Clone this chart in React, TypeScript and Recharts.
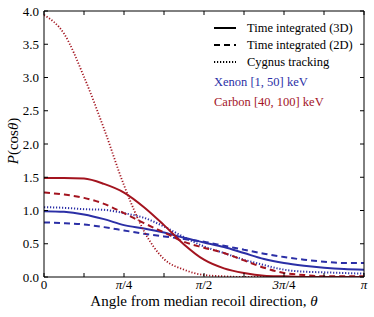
import { LineChart, Line, XAxis, YAxis } from "recharts";

// angle from median recoil direction, in units of pi
const THETA = [0, 0.0625, 0.125, 0.1875, 0.25, 0.3125, 0.375, 0.4375, 0.5, 0.5625, 0.625, 0.6875, 0.75, 0.8125, 0.875, 0.9375, 1];

const CARBON_3D = [1.49, 1.49, 1.48, 1.4, 1.27, 1.05, 0.78, 0.49, 0.26, 0.13, 0.06, 0.02, 0.01, 0, 0, 0, 0];
const CARBON_2D = [1.27, 1.24, 1.19, 1.1, 0.96, 0.81, 0.67, 0.53, 0.44, 0.36, 0.25, 0.14, 0.06, 0.03, 0.01, 0.01, 0.01];
const CARBON_CYG = [3.94, 3.66, 3.01, 2.23, 1.38, 0.69, 0.27, 0.11, 0.03, 0.01, 0, 0, 0, 0, 0, 0, 0];
const XENON_3D = [0.99, 0.98, 0.94, 0.87, 0.78, 0.73, 0.67, 0.59, 0.52, 0.45, 0.36, 0.27, 0.21, 0.17, 0.14, 0.12, 0.11];
const XENON_2D = [0.82, 0.81, 0.79, 0.75, 0.7, 0.65, 0.61, 0.57, 0.53, 0.47, 0.41, 0.35, 0.3, 0.26, 0.23, 0.21, 0.21];
const XENON_CYG = [1.05, 1.04, 1.02, 1.01, 0.96, 0.89, 0.76, 0.6, 0.46, 0.36, 0.26, 0.18, 0.11, 0.08, 0.07, 0.06, 0.05];

const X_TICKS = [0, 0.125, 0.25, 0.375, 0.5, 0.625, 0.75, 0.875, 1];
const X_LABELS: Record<string, [string, string]> = {
  "0": ["", "0"],
  "0.25": ["π", "/4"],
  "0.5": ["π", "/2"],
  "0.75": ["3π", "/4"],
  "1": ["π", ""],
};
const Y_TICKS = [0, 0.5, 1, 1.5, 2, 2.5, 3, 3.5, 4];

const BLUE = "#2b2fa6";
const RED = "#a3141f";
const FONT = "'Liberation Serif', 'Times New Roman', 'DejaVu Serif', serif";

const data = THETA.map((t, i) => ({
  t,
  c3: CARBON_3D[i],
  c2: CARBON_2D[i],
  cc: CARBON_CYG[i],
  x3: XENON_3D[i],
  x2: XENON_2D[i],
  xc: XENON_CYG[i],
}));

function PiTick({ x, y, payload }: any) {
  const lab = X_LABELS[String(payload.value)];
  if (!lab) return <g />;
  const [a, b] = lab;
  return (
    <text x={x} y={y} dy="0.75em" textAnchor="middle" fontFamily={FONT} fontSize={13} fill="#000">
      {a && <tspan fontStyle="italic">{a}</tspan>}
      {b && <tspan>{b}</tspan>}
    </text>
  );
}

function XLabel({ viewBox }: any) {
  const cx = viewBox.x + viewBox.width / 2;
  return (
    <text x={cx} y={viewBox.y + 29} textAnchor="middle" fontFamily={FONT} fontSize={15} fill="#000">
      Angle from median recoil direction, <tspan fontStyle="italic">θ</tspan>
    </text>
  );
}

function YLabel({ viewBox }: any) {
  const cy = viewBox.y + viewBox.height / 2 - 3;
  const cx = 13;
  return (
    <text
      x={cx}
      y={cy}
      transform={`rotate(-90 ${cx} ${cy})`}
      textAnchor="middle"
      dominantBaseline="central"
      fontFamily={FONT}
      fontSize={15}
      fill="#000"
    >
      <tspan fontStyle="italic">P</tspan>(cos<tspan fontStyle="italic">θ</tspan>)
    </text>
  );
}

const legendRows = [
  { label: "Time integrated (3D)", dash: undefined, top: 28 },
  { label: "Time integrated (2D)", dash: "6 4", top: 45 },
  { label: "Cygnus tracking", dash: "1.2 1.8", top: 62 },
];

export default function App() {
  return (
    <div style={{ position: "absolute", left: 0, top: 0, width: 374, height: 317, background: "#fff" }}>
      <LineChart width={374} height={317} data={data} margin={{ top: 10, right: 9, bottom: 0, left: 0 }}>
        <XAxis
          xAxisId="b"
          dataKey="t"
          type="number"
          domain={[0, 1]}
          ticks={X_TICKS}
          interval={0}
          height={40}
          tickSize={-4}
          tickMargin={6}
          tick={<PiTick />}
          axisLine={{ stroke: "#000" }}
          tickLine={{ stroke: "#000" }}
          label={<XLabel />}
        />
        <XAxis
          xAxisId="t"
          orientation="top"
          dataKey="t"
          type="number"
          domain={[0, 1]}
          ticks={X_TICKS}
          interval={0}
          height={1}
          tickSize={-4}
          tickFormatter={() => ""}
          axisLine={{ stroke: "#000" }}
          tickLine={{ stroke: "#000" }}
        />
        <YAxis
          yAxisId="l"
          type="number"
          domain={[0, 4]}
          allowDataOverflow
          ticks={Y_TICKS}
          interval={0}
          width={44}
          tickSize={-4}
          tickMargin={9}
          tickFormatter={(v: number) => v.toFixed(1)}
          tick={{ fontFamily: FONT, fontSize: 13, fill: "#000" }}
          axisLine={{ stroke: "#000" }}
          tickLine={{ stroke: "#000" }}
          label={<YLabel />}
        />
        <YAxis
          yAxisId="r"
          orientation="right"
          type="number"
          domain={[0, 4]}
          allowDataOverflow
          ticks={Y_TICKS}
          interval={0}
          width={1}
          tickSize={-4}
          tickFormatter={() => ""}
          axisLine={{ stroke: "#000" }}
          tickLine={{ stroke: "#000" }}
        />
        <Line xAxisId="b" yAxisId="l" type="monotone" dataKey="xc" stroke={BLUE} strokeWidth={2} strokeDasharray="1.2 1.8" dot={false} isAnimationActive={false} />
        <Line xAxisId="b" yAxisId="l" type="monotone" dataKey="x2" stroke={BLUE} strokeWidth={2} strokeDasharray="6 4" dot={false} isAnimationActive={false} />
        <Line xAxisId="b" yAxisId="l" type="monotone" dataKey="x3" stroke={BLUE} strokeWidth={2} dot={false} isAnimationActive={false} />
        <Line xAxisId="b" yAxisId="l" type="monotone" dataKey="cc" stroke={RED} strokeWidth={1.8} strokeDasharray="1.2 1.8" dot={false} isAnimationActive={false} />
        <Line xAxisId="b" yAxisId="l" type="monotone" dataKey="c2" stroke={RED} strokeWidth={2} strokeDasharray="6 4" dot={false} isAnimationActive={false} />
        <Line xAxisId="b" yAxisId="l" type="monotone" dataKey="c3" stroke={RED} strokeWidth={2} dot={false} isAnimationActive={false} />
      </LineChart>
      <div style={{ position: "absolute", left: 212, top: 0, fontFamily: FONT, fontSize: 12.5, color: "#000" }}>
        {legendRows.map((r) => (
          <div key={r.label} style={{ position: "absolute", top: r.top - 8, left: 0, whiteSpace: "nowrap", height: 16, lineHeight: "16px" }}>
            <svg width={24} height={16} style={{ position: "absolute", left: 2, top: 0 }}>
              <line x1={0} x2={22} y1={8} y2={8} stroke="#000" strokeWidth={r.dash ? 1.8 : 2} strokeDasharray={r.dash} />
            </svg>
            <span style={{ position: "absolute", left: 35 }}>{r.label}</span>
          </div>
        ))}
        <div style={{ position: "absolute", top: 75, left: 2, whiteSpace: "nowrap", color: BLUE }}>Xenon [1, 50] keV</div>
        <div style={{ position: "absolute", top: 95, left: 2, whiteSpace: "nowrap", color: RED }}>Carbon [40, 100] keV</div>
      </div>
    </div>
  );
}
